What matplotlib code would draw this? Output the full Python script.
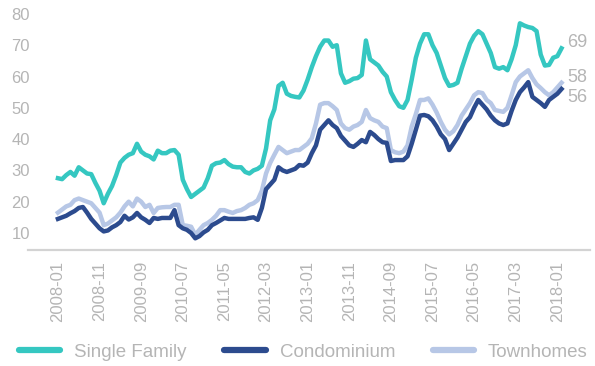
import matplotlib
matplotlib.use("Agg")
import matplotlib.pyplot as plt

# Monthly index values, 2008-01 .. 2018-02
single_family = [
    27.5, 27.2, 28.5, 29.5, 28.3, 31.0, 30.0, 29.0, 28.8, 26.0,
    23.5, 19.5, 22.5, 25.0, 28.5, 32.5, 34.0, 35.0, 35.5, 38.5,
    36.0, 35.0, 34.5, 33.5, 36.3, 35.5, 35.5, 36.3, 36.5, 35.0,
    27.0, 24.0, 21.5, 22.5, 23.5, 24.5, 27.5, 31.5, 32.3, 32.5,
    33.3, 32.0, 31.2, 31.0, 31.0, 29.5, 29.0, 30.0, 30.5, 31.5,
    37.0, 46.0, 49.5, 57.0, 58.0, 54.5, 53.8, 53.5, 53.3, 55.5,
    59.0, 63.0, 66.5, 69.5, 71.5, 71.5, 69.5, 70.0, 61.0, 58.0,
    58.5, 59.3, 59.5, 60.5, 71.5, 65.5, 64.5, 63.5, 61.5, 60.0,
    55.0, 52.5, 50.5, 50.0, 52.5, 59.0, 66.0, 70.5, 73.5, 73.5,
    70.0, 67.5, 63.5, 59.5, 57.0, 57.3, 58.0, 62.5, 66.5, 70.5,
    73.0, 74.5, 73.5, 70.5, 67.5, 63.0, 62.5, 63.0, 62.0, 65.5,
    70.0, 77.0, 76.3, 75.8, 75.5, 74.5, 67.0, 63.5, 63.7, 66.0,
    66.5, 69.0,
]
condominium = [
    14.5, 15.0, 15.5, 16.3, 17.0, 18.0, 18.3, 16.5, 14.5, 13.0,
    11.5, 10.5, 10.8, 11.8, 12.5, 13.5, 15.5, 14.3, 15.0, 16.4,
    15.0, 14.2, 13.2, 14.8, 14.5, 14.8, 14.8, 14.8, 17.3, 12.5,
    11.5, 11.0, 10.0, 8.3, 9.0, 10.2, 11.0, 12.5, 13.2, 14.0,
    14.8, 14.5, 14.5, 14.5, 14.5, 14.5, 14.8, 15.0, 14.2, 18.0,
    24.0, 25.5, 27.0, 31.0, 30.0, 29.5, 30.0, 30.5, 31.7, 31.5,
    32.5, 35.5, 38.0, 43.0, 44.5, 46.0, 44.5, 43.5, 41.0, 39.5,
    38.0, 37.5, 38.5, 39.7, 39.0, 42.3, 41.3, 40.0, 39.0, 38.8,
    33.0, 33.3, 33.3, 33.3, 34.5, 38.5, 43.0, 47.5, 47.7, 47.3,
    46.0, 44.0, 41.5, 40.0, 36.5, 38.5, 40.5, 43.0, 45.5, 47.0,
    50.0, 52.5, 51.0, 49.5, 47.5, 46.0, 45.0, 44.5, 45.0, 49.0,
    52.5, 55.0, 56.5, 58.2, 53.5, 52.5, 51.5, 50.3, 52.5, 53.5,
    54.5, 56.0,
]
townhomes = [
    16.5, 17.5, 18.5, 19.0, 20.5, 21.0, 20.5, 20.0, 19.5, 18.0,
    16.5, 12.5, 13.0, 14.0, 15.0, 16.5, 18.5, 20.0, 18.5, 21.0,
    20.0, 18.3, 19.0, 16.4, 18.0, 18.2, 18.3, 18.3, 19.0, 19.0,
    12.5, 12.3, 12.0, 9.4, 11.0, 12.5, 13.2, 14.2, 15.5, 17.3,
    17.3, 16.8, 16.4, 17.0, 17.3, 18.0, 19.0, 19.5, 20.5, 23.5,
    29.0, 32.4, 35.0, 37.5, 36.5, 35.5, 36.0, 36.5, 36.5, 37.5,
    38.5, 40.3, 45.0, 51.0, 51.5, 51.5, 50.5, 49.3, 45.0, 43.5,
    43.0, 44.0, 44.5, 45.5, 49.3, 46.7, 46.0, 45.5, 44.0, 43.5,
    36.5, 35.8, 35.5, 36.0, 38.0, 44.0, 48.0, 52.5, 52.5, 53.0,
    51.0, 48.5, 45.5, 43.0, 41.5, 42.5, 44.5, 47.5, 49.5, 51.5,
    54.0, 55.0, 54.7, 52.5, 51.5, 49.3, 49.0, 48.7, 50.0, 54.0,
    58.2, 60.0, 61.0, 62.0, 59.5, 57.5, 56.3, 55.0, 54.0, 55.0,
    56.5, 58.0,
]
tick_labels = ["2008-01", "2008-11", "2009-09", "2010-07", "2011-05",
               "2012-03", "2013-01", "2013-11", "2014-09", "2015-07",
               "2016-05", "2017-03", "2018-01"]
yticks = [10, 20, 30, 40, 50, 60, 70, 80]

TEAL = "#35c7c1"
NAVY = "#2c4b8e"
LIGHT = "#b7c7e6"
TEXT = "#b5b5b5"
AXIS = "#d3d3d3"

plt.rcParams["font.family"] = ["Liberation Sans", "DejaVu Sans"]

fig = plt.figure(figsize=(5.95, 3.66), dpi=100)
ax = fig.add_axes([0.047, 0.317, 0.945, 0.645])

months = list(range(len(single_family)))
l_th, = ax.plot(months, townhomes, color=LIGHT, lw=3.2, zorder=2,
                solid_joinstyle="round", label="Townhomes")
l_co, = ax.plot(months, condominium, color=NAVY, lw=3.2, zorder=3,
                solid_joinstyle="round", label="Condominium")
l_sf, = ax.plot(months, single_family, color=TEAL, lw=3.2, zorder=4,
                solid_joinstyle="round", label="Single Family")

# end-of-series value labels, nudged apart where they would collide
last = months[-1]
for vals, dy in ((single_family, 4), (townhomes, 4), (condominium, -6)):
    ax.annotate(f"{vals[-1]:.0f}", xy=(last, vals[-1]), xytext=(4, dy),
                textcoords="offset points", va="center", ha="left",
                color=TEXT, fontsize=13, annotation_clip=False)

ax.set_xlim(-7.2, 127.9)
ax.set_ylim(4.57, 80)
ax.set_xticks(months[::10])
ax.set_xticklabels(tick_labels, rotation=90, color=TEXT, fontsize=12)
ax.set_yticks(yticks)
ax.set_yticklabels([str(v) for v in yticks], color=TEXT, fontsize=12)
ax.tick_params(axis="x", length=0, pad=8)
ax.tick_params(axis="y", length=0, pad=-1.5)

for side in ("top", "right", "left"):
    ax.spines[side].set_visible(False)
ax.spines["bottom"].set_color(AXIS)
ax.spines["bottom"].set_linewidth(1.6)

leg = fig.legend([l_sf, l_co, l_th], ["Single Family", "Condominium", "Townhomes"],
                 loc="center", bbox_to_anchor=(0.51, 0.038), ncol=3, frameon=False,
                 fontsize=13.5, labelcolor=TEXT, handlelength=2.2,
                 handletextpad=0.75, columnspacing=2.0)
for h in leg.get_lines():
    h.set_linewidth(4.5)
    h.set_solid_capstyle("round")

fig.savefig("out.png", dpi=100, facecolor="white")
